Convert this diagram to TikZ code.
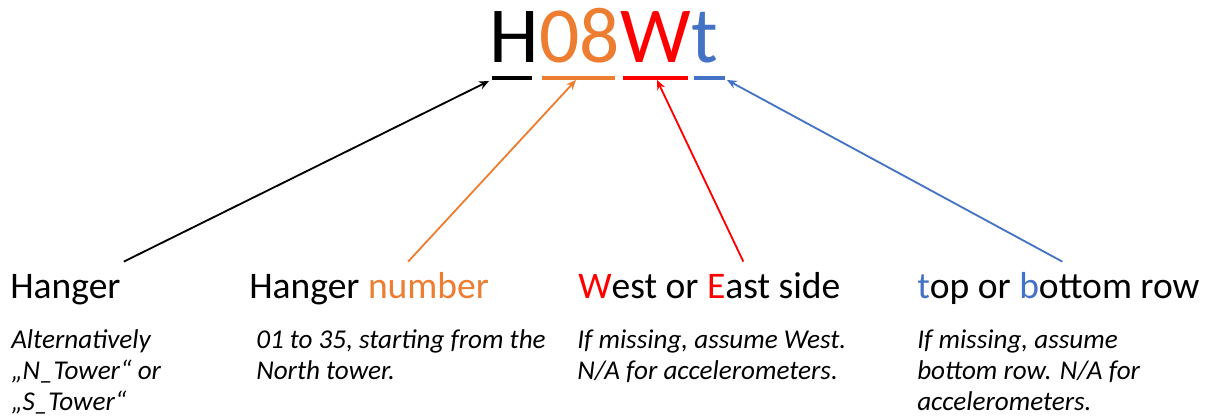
\documentclass[tikz,border=0pt]{standalone}
\usepackage{fontspec}
\setmainfont{Carlito}
\usepackage{tikz}
\usetikzlibrary{positioning, arrows.meta, calc}
\definecolor{hgOrange}{RGB}{237,125,49}
\definecolor{hgRed}{RGB}{255,0,0}
\definecolor{hgBlue}{RGB}{68,114,196}

\begin{document}
\begin{tikzpicture}[x=0.025cm, y=-0.025cm,
	codechar/.style={inner sep=0pt, anchor=base west, font=\fontsize{56.5}{56.5}\selectfont},
	partname/.style={inner sep=0pt, anchor=base west, font=\fontsize{26.7}{32}\selectfont},
	descr/.style={inner sep=0pt, anchor=base west, align=left, font=\fontsize{19.3}{22}\selectfont\itshape},
	ul/.style={line width=2.8pt},
	link/.style={-{Stealth[length=7pt, width=6pt]}, line width=1.3pt}]
	\useasboundingbox (0,0) rectangle (1214,418);
	% the code itself
	\node[codechar] (cH) at (489,63) {H};
	\node[codechar, text=hgOrange] (c08) at (cH.base east) {08};
	\node[codechar, text=hgRed] (cW) at (c08.base east) {W};
	\node[codechar, text=hgBlue] (ct) at (cW.base east) {t};
	\draw[ul] (492,78) -- (532,78);
	\draw[ul, hgOrange] (542,78) -- (615,78);
	\draw[ul, hgRed] (623,78) -- (688,78);
	\draw[ul, hgBlue] (694,78) -- (725,78);
	\coordinate (endH) at (489,81);
	\coordinate (end08) at (576,80);
	\coordinate (endW) at (657,80);
	\coordinate (endt) at (727,80);
	% parts
	\node[partname] (hanger) at (10,299) {Hanger};
	\node[partname] (number) at (249,299) {Hanger \textcolor{hgOrange}{number}};
	\node[partname] (side) at (578,299) {\textcolor{hgRed}{W}est or \textcolor{hgRed}{E}ast side};
	\node[partname] (row) at (917,299) {\textcolor{hgBlue}{t}op or \textcolor{hgBlue}{b}ottom row};
	% notes (anchored at their last line)
	\node[descr] (hangerNote) at (11,410) {Alternatively\\„N\_Tower“ or\\„S\_Tower“};
	\node[descr] (numberNote) at (256,379) {01 to 35, starting from the\\North tower.};
	\node[descr] (sideNote) at (577,379) {If missing, assume West.\\N/A for accelerometers.};
	\node[descr] (rowNote) at (917,410) {If missing, assume\\bottom row. N/A for\\accelerometers.};
	% connectors
	\draw[link, black] ($(hanger.north east)+(3,-13)$) -- (endH);
	\draw[link, hgOrange] ($(number.north)+(39,-11)$) -- (end08);
	\draw[link, hgRed] ($(side.north)+(34,-11)$) -- (endW);
	\draw[link, hgBlue] ($(row.north)+(4,-11)$) -- (endt);
\end{tikzpicture}
\end{document}
